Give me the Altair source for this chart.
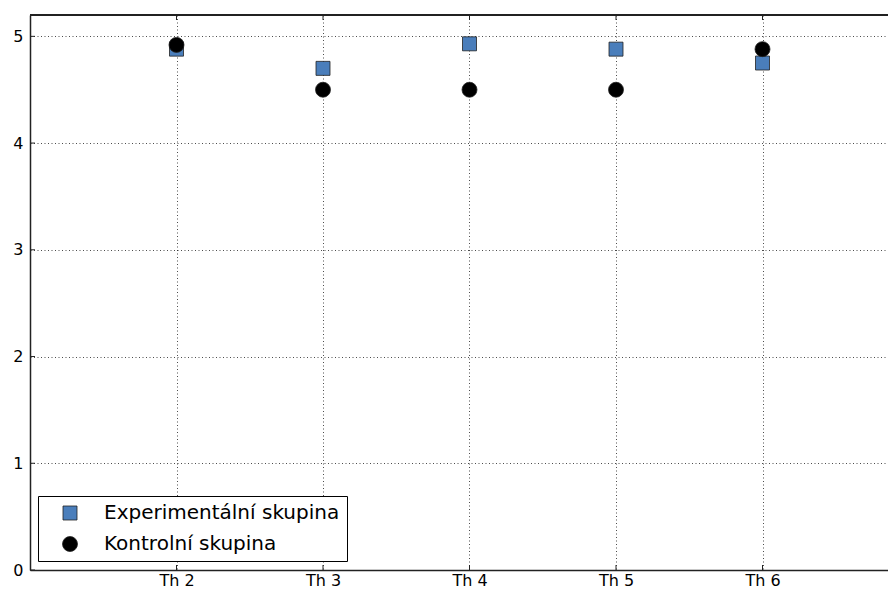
import altair as alt
import pandas as pd

categories = ["Th 2", "Th 3", "Th 4", "Th 5", "Th 6"]
experimental = [4.88, 4.70, 4.93, 4.88, 4.75]
control = [4.92, 4.50, 4.50, 4.50, 4.88]
series_names = ["Experimentální skupina", "Kontrolní skupina"]
series_colors = ["#4a7ebb", "#000000"]
y_ticks = [0, 1, 2, 3, 4, 5]

positions = [int(c.split()[1]) for c in categories]

rows = []
for name, vals in zip(series_names, [experimental, control]):
    for c, p, v in zip(categories, positions, vals):
        rows.append({"category": c, "pos": p, "value": v, "series": name})
df = pd.DataFrame(rows)
xt = pd.DataFrame({"pos": positions})
yt = pd.DataFrame({"value": y_ticks})

W, H = 858, 555
xscale = alt.Scale(domain=[1, 1 + W / 146.5], nice=False, zero=False)
yscale = alt.Scale(domain=[0, 5.2], nice=False, zero=False)

xaxis = alt.Axis(values=positions, labelExpr="'Th ' + datum.value", title=None,
                 grid=True, ticks=False, labelPadding=2)
yaxis = alt.Axis(values=y_ticks, title=None, grid=True, ticks=False, labelPadding=7)

points = alt.Chart(df).mark_point(filled=True, opacity=1, stroke="#222",
                                  strokeWidth=0.8).encode(
    x=alt.X("pos:Q", scale=xscale, axis=xaxis),
    y=alt.Y("value:Q", scale=yscale, axis=yaxis),
    color=alt.Color("series:N", scale=alt.Scale(domain=series_names, range=series_colors),
                    legend=alt.Legend(title=None, orient="none", legendX=8, legendY=H - 74,
                                      fillColor="white", strokeColor="black",
                                      padding=7, symbolOffset=15, labelOffset=24,
                                      rowPadding=11, labelFontSize=20, labelLimit=0,
                                      labelFont="DejaVu Sans", labelColor="black",
                                      symbolStrokeColor="#222", symbolStrokeWidth=0.8,
                                      cornerRadius=0)),
    shape=alt.Shape("series:N", scale=alt.Scale(domain=series_names, range=["square", "circle"])),
    size=alt.Size("series:N", scale=alt.Scale(domain=series_names, range=[196, 225])),
)

bottom_ticks = alt.Chart(xt).mark_rule(color="#222", strokeWidth=1).encode(
    x=alt.X("pos:Q", scale=xscale, axis=xaxis),
    y=alt.value(H), y2=alt.value(H - 5),
)
top_ticks = alt.Chart(xt).mark_rule(color="#222", strokeWidth=1).encode(
    x=alt.X("pos:Q", scale=xscale, axis=xaxis),
    y=alt.value(0), y2=alt.value(5),
)
left_ticks = alt.Chart(yt).mark_rule(color="#222", strokeWidth=1).encode(
    y=alt.Y("value:Q", scale=yscale, axis=yaxis),
    x=alt.value(0), x2=alt.value(5),
)
top_border = alt.Chart(xt).mark_rule(color="#222", strokeWidth=1.5).encode(
    x=alt.value(0), x2=alt.value(W), y=alt.value(0),
)

chart = alt.layer(bottom_ticks, top_ticks, left_ticks, top_border, points).properties(
    width=W, height=H,
    autosize=alt.AutoSizeParams(type="none"),
    padding={"left": 22, "top": 7, "right": 0, "bottom": 18},
).configure_view(stroke=None).configure_axis(
    labelFont="DejaVu Sans", labelFontSize=16, labelColor="black",
    domainColor="#222", domainWidth=1.5,
    gridColor="black", gridDash=[1, 2.5], gridOpacity=0.7, gridWidth=1,
)

chart.save("out.html", embed_options={"renderer": "svg", "actions": False})
